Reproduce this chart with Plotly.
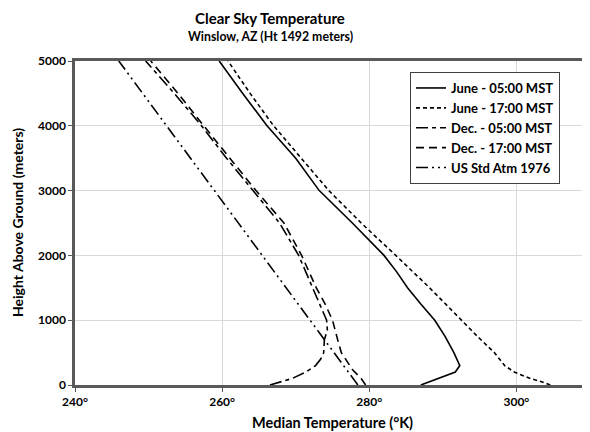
import plotly.graph_objects as go

# Heights above ground (meters) and temperatures (K)
june05_h = [0, 100, 150, 200, 300, 500, 750, 1000, 1250, 1500, 1750, 2000, 2500, 3000, 3500, 4000, 4500, 5000]
june05_t = [287.0, 289.3, 290.4, 291.7, 292.3, 291.5, 290.3, 288.9, 287.0, 285.2, 283.7, 282.0, 277.7, 273.2, 270.0, 266.1, 262.8, 259.6]

june17_h = [0, 50, 100, 200, 300, 500, 750, 1000, 1500, 2000, 2500, 3000, 3500, 4000, 4500, 5000]
june17_t = [304.6, 303.4, 301.9, 299.7, 298.4, 297.0, 294.7, 292.5, 288.2, 283.6, 278.9, 274.5, 270.8, 267.0, 263.8, 260.8]

dec05_h = [0, 50, 100, 200, 300, 400, 500, 700, 850, 1000, 1250, 1500, 2000, 2500, 3000, 3500, 4000, 4500, 5000]
dec05_t = [266.5, 268.0, 269.5, 271.4, 272.7, 273.4, 273.8, 273.9, 274.3, 274.2, 273.3, 272.3, 270.4, 267.8, 264.2, 260.6, 257.2, 253.5, 249.6]

dec17_h = [0, 100, 240, 500, 700, 1000, 1250, 1500, 2000, 2500, 3000, 3500, 4000, 4500, 5000]
dec17_t = [279.5, 278.9, 277.7, 276.2, 275.7, 275.0, 274.0, 272.8, 270.8, 268.4, 264.6, 261.0, 257.5, 254.0, 250.3]

usstd_h = [0, 5000]
usstd_t = [278.45, 245.95]

series = [
    ("June - 05:00 MST", june05_t, june05_h, "solid"),
    ("June - 17:00 MST", june17_t, june17_h, "4px,3px"),
    ("Dec. - 05:00 MST", dec05_t, dec05_h, "12px,4px,4px,4px"),
    ("Dec. - 17:00 MST", dec17_t, dec17_h, "8px,5px"),
    ("US Std Atm 1976", usstd_t, usstd_h, "12px,4px,2px,4px,2px,4px"),
]

x_ticks = [240, 260, 280, 300]
x_tick_text = ["240°", "260°", "280°", "300°"]
y_ticks = [0, 1000, 2000, 3000, 4000, 5000]

FONT = "Lato"

# The page body has an 8px margin, so the figure is drawn offset by (8, 8).
OFF = 8
FW, FH = 590 - OFF, 432 - OFF
# plot area in reference-window pixels
L, T, R, B = 75, 61, 590, 385
PW, PH = R - L, B - T


def px_to_paper(px, py):
    return (px - L) / PW, (B - py) / PH


fig = go.Figure()
for name, t, h, dash in series:
    fig.add_trace(go.Scatter(x=t, y=h, mode="lines", name=name,
                             line=dict(color="black", width=1.6, dash=dash)))

annots = []
for text, px, py, size, angle in [
    ("Clear Sky Temperature", 270, 18, 15, 0),
    ("Winslow, AZ (Ht 1492 meters)", 270, 37, 12.3, 0),
    ("Median Temperature (°K)", 332, 422, 14.5, 0),
    ("Height Above Ground (meters)", 17, 223, 14, -90),
]:
    ax, ay = px_to_paper(px, py)
    annots.append(dict(text=text, x=ax, y=ay, xref="paper", yref="paper",
                       xanchor="center", yanchor="middle", showarrow=False,
                       textangle=angle, font=dict(size=size, weight="bold", family=FONT)))

lx, ly = px_to_paper(410, 72)

fig.update_layout(
    width=FW, height=FH,
    margin=dict(l=L - OFF, r=max(0, FW - (R - OFF)), t=T - OFF, b=FH - (B - OFF), autoexpand=False),
    paper_bgcolor="white", plot_bgcolor="white",
    font=dict(family=FONT, size=12, color="black", weight="bold"),
    showlegend=True,
    legend=dict(x=lx, y=ly, xanchor="left", yanchor="top",
                bordercolor="#404040", borderwidth=1, bgcolor="white",
                font=dict(family=FONT, size=13, color="black", weight="bold"),
                tracegroupgap=0, itemwidth=30),
    annotations=annots,
)

fig.update_xaxes(
    range=[240, 310], tickvals=x_ticks, ticktext=x_tick_text,
    showgrid=True, gridcolor="#d9d9d9", gridwidth=1,
    showline=True, linecolor="#595959", linewidth=2.5, mirror=True,
    ticks="outside", ticklen=4, tickcolor="#595959",
    tickfont=dict(size=12, weight="bold"),
    automargin=False, zeroline=False,
)
fig.update_yaxes(
    range=[0, 5000], tickvals=y_ticks,
    showgrid=True, gridcolor="#d9d9d9", gridwidth=1,
    showline=True, linecolor="#595959", linewidth=2.5,
    ticks="outside", ticklen=4, tickcolor="#595959",
    tickfont=dict(size=12, weight="bold"),
    automargin=False, zeroline=False,
)

fig.write_html("out.html")
